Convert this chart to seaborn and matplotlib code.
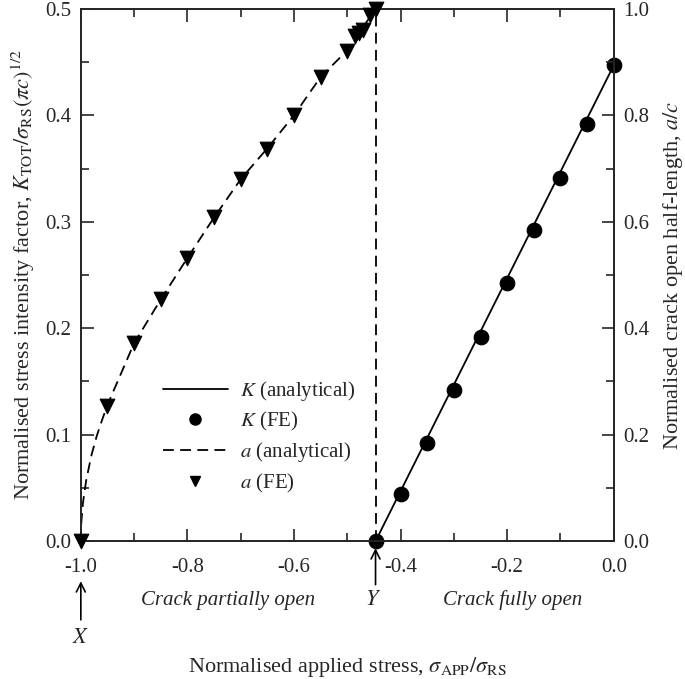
import matplotlib
matplotlib.use("Agg")
import matplotlib.pyplot as plt
import seaborn as sns
from matplotlib.ticker import MultipleLocator
from matplotlib.lines import Line2D

# applied stress where crack becomes fully open (point Y)
x_open = -0.447

# K analytical / FE (left axis)
k_an_x = [-0.447, 0.0]
k_an_y = [0.0, 0.447]
k_fe_x = [-0.447, -0.40, -0.35, -0.30, -0.25, -0.20, -0.15, -0.10, -0.05, 0.0]
k_fe_y = [0.0, 0.044, 0.092, 0.142, 0.192, 0.2425, 0.292, 0.341, 0.392, 0.447]

# a/c analytical / FE (right axis)
a_an_x = [-1.0, -0.999, -0.996, -0.99, -0.98, -0.97, -0.96, -0.95, -0.9, -0.85,
          -0.8, -0.75, -0.7, -0.65, -0.6, -0.55, -0.5, -0.447]
a_an_y = [0.0, 0.036, 0.072, 0.114, 0.162, 0.198, 0.228, 0.256, 0.372, 0.454,
          0.532, 0.608, 0.68, 0.738, 0.80, 0.872, 0.922, 1.0]
a_fe_x = [-1.0, -0.95, -0.9, -0.85, -0.8, -0.75, -0.7, -0.65, -0.6, -0.55, -0.5,
          -0.486, -0.478, -0.471, -0.458, -0.447]
a_fe_y = [0.0, 0.254, 0.372, 0.455, 0.532, 0.609, 0.68, 0.736, 0.80, 0.872, 0.92,
          0.949, 0.954, 0.96, 0.988, 1.0]

sns.set_style("ticks")
plt.rcParams['font.family'] = ['Liberation Serif', 'DejaVu Serif']
plt.rcParams['mathtext.fontset'] = 'stix'
plt.rcParams['font.size'] = 15

fig = plt.figure(figsize=(6.85, 6.79), dpi=100)
ax = fig.add_axes([0.118, 0.203, 0.778, 0.784])
ax2 = ax.twinx()

dash = (0, (6, 3.5))
sns.lineplot(x=k_an_x, y=k_an_y, ax=ax, color='black', lw=1.3)
sns.scatterplot(x=k_fe_x, y=k_fe_y, ax=ax, color='black', marker='o', s=110,
                edgecolor='black', zorder=5, clip_on=False)
sns.lineplot(x=a_an_x, y=a_an_y, ax=ax2, color='black', lw=1.3, linestyle=dash)
sns.scatterplot(x=a_fe_x, y=a_fe_y, ax=ax2, color='black', marker='v', s=110,
                edgecolor='black', zorder=5, clip_on=False)
ax2.axvline(x_open, color='black', lw=1.3, linestyle=dash)

ax.set_xlim(-1.0, 0.0)
ax.set_ylim(0, 0.5)
ax2.set_ylim(0, 1.0)

ax.xaxis.set_major_locator(MultipleLocator(0.2))
ax.xaxis.set_minor_locator(MultipleLocator(0.1))
ax.yaxis.set_major_locator(MultipleLocator(0.1))
ax.yaxis.set_minor_locator(MultipleLocator(0.05))
ax2.yaxis.set_major_locator(MultipleLocator(0.2))
ax2.yaxis.set_minor_locator(MultipleLocator(0.1))
ax.xaxis.set_major_formatter(lambda v, p: f"{v:.1f}")
ax.yaxis.set_major_formatter(lambda v, p: f"{v:.1f}")
ax2.yaxis.set_major_formatter(lambda v, p: f"{v:.1f}")

ax.tick_params(which='both', direction='in', top=True, right=False, width=1.2,
               labelsize=15, pad=7)
ax.tick_params(axis='x', which='both', pad=12)
ax.tick_params(which='major', length=9)
ax.tick_params(which='minor', length=6)
ax2.tick_params(which='both', direction='in', width=1.2, labelsize=15, pad=7)
ax2.tick_params(which='major', length=9)
ax2.tick_params(which='minor', length=6)
for a in (ax, ax2):
    for s in a.spines.values():
        s.set_linewidth(1.3)
        s.set_visible(True)

ax.set_xlabel(r"Normalised applied stress, $\sigma_{\rm APP}/\sigma_{\rm RS}$", fontsize=16)
ax.xaxis.set_label_coords(0.5, -0.214)
ax.set_ylabel(r"Normalised stress intensity factor, $K_{\rm TOT}/\sigma_{\rm RS}(\pi c)^{1/2}$",
              fontsize=16, labelpad=6)
ax2.set_ylabel(r"Normalised crack open half-length, $a/c$", fontsize=16, labelpad=8)

# annotations below the axis
arrow = dict(arrowstyle='->', color='black', lw=1.2, mutation_scale=16)
trans = ax.get_xaxis_transform()
ax.annotate("", xy=(-1.0, -0.070), xytext=(-1.0, -0.153), xycoords=trans,
            textcoords=trans, arrowprops=arrow, annotation_clip=False)
ax.text(-1.0, -0.183, r"$X$", transform=trans, ha='center', va='center', fontsize=16)
ax.annotate("", xy=(x_open, -0.008), xytext=(x_open, -0.087), xycoords=trans,
            textcoords=trans, arrowprops=arrow, annotation_clip=False)
ax.text(x_open - 0.004, -0.111, r"$Y$", transform=trans, ha='center', va='center', fontsize=16)
ax.text(-0.724, -0.111, "Crack partially open", transform=trans, ha='center',
        va='center', fontsize=15, style='italic')
ax.text(-0.19, -0.111, "Crack fully open", transform=trans, ha='center',
        va='center', fontsize=15, style='italic')

handles = [
    Line2D([], [], color='black', lw=1.3),
    Line2D([], [], color='black', marker='o', ls='none', ms=8),
    Line2D([], [], color='black', lw=1.3, linestyle=dash),
    Line2D([], [], color='black', marker='v', ls='none', ms=7),
]
labels = [r"$K$ (analytical)", r"$K$ (FE)", r"$a$ (analytical)", r"$a$ (FE)"]
ax.legend(handles, labels, loc='center left', bbox_to_anchor=(0.119, 0.196),
          frameon=False, fontsize=15, handlelength=3.1, labelspacing=0.35,
          handletextpad=0.62)

fig.savefig("out.png", dpi=100)
